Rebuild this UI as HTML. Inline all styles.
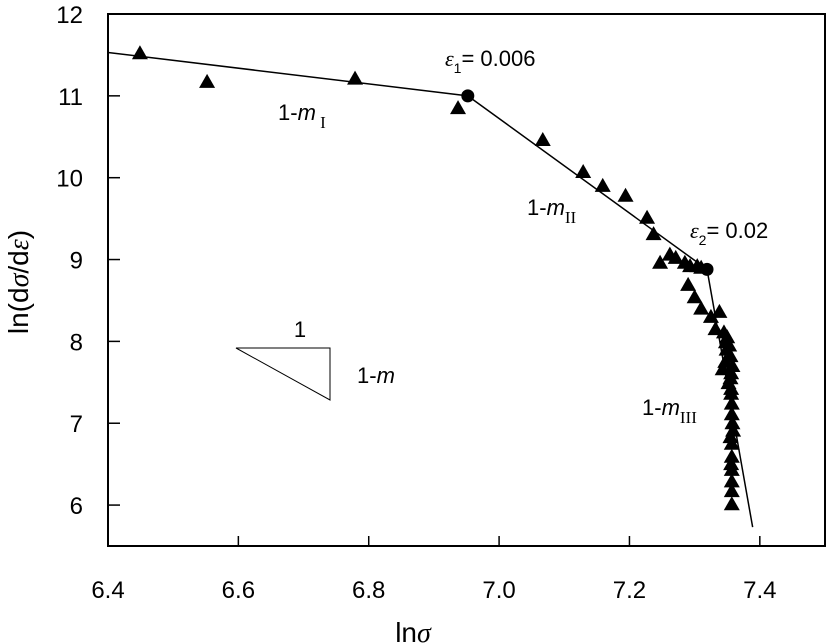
<!DOCTYPE html>
<html><head><meta charset="utf-8"><style>
body{margin:0;background:#fff;}
svg{display:block;font-family:"Liberation Sans",Arial,sans-serif;}
</style></head><body>
<svg id="chart" width="827" height="644" viewBox="0 0 827 644">
<g id="marks"></g>
</svg>
<script>
const xTicks=[6.4,6.6,6.8,7.0,7.2,7.4];
const xTickLabels=["6.4","6.6","6.8","7.0","7.2","7.4"];
const yTicks=[6,7,8,9,10,11,12];
const yTickLabels=["6","7","8","9","10","11","12"];
const dataX=[6.449,6.552,6.779,6.937,7.067,7.129,7.159,7.194,7.227,7.237,7.247,7.262,7.271,7.285,7.293,7.304,7.31,7.29,7.30,7.31,7.325,7.338,7.332,7.345,7.348,7.349,7.355,7.343,7.356,7.352,7.356,7.357,7.357,7.359,7.357,7.357,7.357,7.357,7.357,7.357,7.350,7.353,7.347,7.358,7.355,7.356,7.358,7.355,7.356];
const dataY=[11.52,11.17,11.21,10.85,10.46,10.07,9.90,9.78,9.51,9.31,8.96,9.06,9.02,8.96,8.92,8.92,8.90,8.69,8.54,8.40,8.30,8.36,8.15,8.11,7.99,7.90,7.82,7.66,7.61,7.49,7.36,7.24,7.11,6.91,6.75,6.59,6.43,6.29,6.17,6.01,8.05,7.95,7.75,7.70,7.55,7.42,7.00,6.83,6.50];
const fitX=[6.4,6.952,7.319,7.389];
const fitY=[11.53,11.0,8.88,5.73];
const breakX=[6.952,7.319];
const breakY=[11.0,8.88];
const X0=6.4,X1=7.5,Y0=5.5,Y1=12;
const L=108,R=825,T=14,B=546;
const sx=v=>L+(v-X0)/(X1-X0)*(R-L);
const sy=v=>B-(v-Y0)/(Y1-Y0)*(B-T);
const NS="http://www.w3.org/2000/svg";
const g=document.getElementById('marks');
function mk(tag,attrs,parent){const e=document.createElementNS(NS,tag);for(const k in attrs)e.setAttribute(k,attrs[k]);(parent||g).appendChild(e);return e;}
let fr=mk('rect',{x:L,y:T,width:R-L,height:B-T,fill:'none',stroke:'#000','stroke-width':2});


xTicks.forEach((v,i)=>{
 let t=mk('line',{x1:sx(v),x2:sx(v),y1:B,y2:B-10,stroke:'#000','stroke-width':1.5});
 
 
 let l=mk('text',{x:sx(v),y:B+52,'text-anchor':'middle','font-size':24});
 l.textContent=xTickLabels[i];
 
 
});
yTicks.forEach((v,i)=>{
 let t=mk('line',{x1:L,x2:L+12,y1:sy(v),y2:sy(v),stroke:'#000','stroke-width':1.5});
 
 
 let l=mk('text',{x:L-25,y:sy(v)+9,'text-anchor':'end','font-size':24});
 l.textContent=yTickLabels[i];
 
 
});
let pl=mk('polyline',{points:fitX.map((x,i)=>sx(x)+','+sy(fitY[i])).join(' '),fill:'none',stroke:'#000','stroke-width':1.5});


dataX.forEach((x,i)=>{
 const cx=sx(x),cy=sy(dataY[i]);
 let p=mk('polygon',{points:`${cx},${cy-8} ${cx-8},${cy+6} ${cx+8},${cy+6}`,fill:'#000'});
 
 
});
breakX.forEach((x,i)=>{
 let c=mk('circle',{cx:sx(x),cy:sy(breakY[i]),r:6.5,fill:'#000'});
 
 
});
</script>
<svg width="827" height="644" style="position:absolute;left:0;top:0">
<g font-family="Liberation Sans, Arial, sans-serif" font-size="22">
<text x="445" y="66"><tspan font-family="Liberation Serif" font-style="italic">ε</tspan><tspan font-size="14" dy="7">1</tspan><tspan dy="-7">= 0.006</tspan></text>
<text x="690" y="238"><tspan font-family="Liberation Serif" font-style="italic">ε</tspan><tspan font-size="14" dy="7">2</tspan><tspan dy="-7">= 0.02</tspan></text>
<text x="278" y="120">1-<tspan font-style="italic">m</tspan><tspan font-family="Liberation Serif" font-size="17" dy="8"> I</tspan></text>
<text x="527" y="215">1-<tspan font-style="italic">m</tspan><tspan font-family="Liberation Serif" font-size="17" dy="8">II</tspan></text>
<text x="642" y="415">1-<tspan font-style="italic">m</tspan><tspan font-family="Liberation Serif" font-size="17" dy="8">III</tspan></text>
<polygon points="236,348 330,348 330,400" fill="none" stroke="#000" stroke-width="1"/>
<text x="300" y="337" text-anchor="middle">1</text>
<text x="357" y="383">1-<tspan font-style="italic">m</tspan></text>
<text x="413" y="642" text-anchor="middle" font-size="28">ln<tspan font-family="Liberation Serif" font-style="italic">σ</tspan></text>
<text transform="translate(28,282) rotate(-90)" text-anchor="middle" font-size="28">ln(d<tspan font-family="Liberation Serif" font-style="italic">σ</tspan>/d<tspan font-family="Liberation Serif" font-style="italic">ε</tspan>)</text>
</g>
</svg>
</body></html>
